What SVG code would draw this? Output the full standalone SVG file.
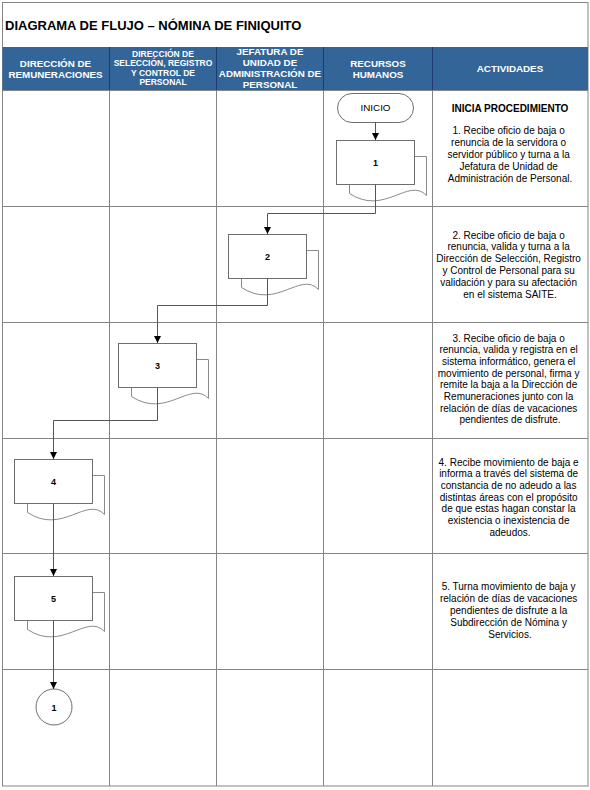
<svg xmlns="http://www.w3.org/2000/svg" width="590" height="790" viewBox="0 0 590 790">
<style>
.grid{stroke:#858585;stroke-width:1;fill:none}
.hdiv{stroke:#1f3a70;stroke-width:1}
.hd{font-family:"Liberation Sans",Arial,sans-serif;font-weight:bold;fill:#ffffff;text-anchor:middle}
.act{font-family:"Liberation Sans",Arial,sans-serif;font-size:10px;fill:#000;text-anchor:middle}
.shape{fill:#ffffff;stroke:#6e6e6e;stroke-width:1}
.back{fill:#ffffff;stroke:#8a8a8a;stroke-width:1}
.lbl{font-family:"Liberation Sans",Arial,sans-serif;font-size:9px;font-weight:bold;fill:#000;text-anchor:middle}
.conn{fill:none;stroke:#555555;stroke-width:1}
</style>
<defs>
<marker id="arr" viewBox="0 0 8 8" refX="8" refY="4" markerWidth="7" markerHeight="7" markerUnits="userSpaceOnUse" orient="auto">
<path d="M0,0 L8,4 L0,8 z" fill="#000"/>
</marker>
<g id="multidoc">
<path class="back" d="M78 16 H90 V55 C72 36 48 76 13 53 V44"/>
<rect class="shape" x="0" y="0" width="78" height="44"/>
</g>
</defs>
<rect x="0" y="0" width="590" height="790" fill="#ffffff"/>
<rect x="2.5" y="2.5" width="585.5" height="783.5" fill="none" stroke="#858585"/>
<text x="5" y="30" font-family="'Liberation Sans',Arial,sans-serif" font-size="13" font-weight="bold" fill="#000">DIAGRAMA DE FLUJO – NÓMINA DE FINIQUITO</text>
<g id="header">
<rect x="2.5" y="47" width="585.5" height="43" fill="#336598"/>
<line class="hdiv" x1="109.5" y1="47" x2="109.5" y2="90"/>
<line class="hdiv" x1="216.5" y1="47" x2="216.5" y2="90"/>
<line class="hdiv" x1="323.5" y1="47" x2="323.5" y2="90"/>
<line class="hdiv" x1="432.5" y1="47" x2="432.5" y2="90"/>
<text class="hd" font-size="9.8" x="55.5" y="66.5">DIRECCIÓN DE</text>
<text class="hd" font-size="9.8" x="55.5" y="77.5">REMUNERACIONES</text>
<text class="hd" font-size="8.5" x="163" y="56.5">DIRECCIÓN DE</text>
<text class="hd" font-size="8.5" x="163" y="66">SELECCIÓN, REGISTRO</text>
<text class="hd" font-size="8.5" x="163" y="75.5">Y CONTROL DE</text>
<text class="hd" font-size="8.5" x="163" y="85">PERSONAL</text>
<text class="hd" font-size="9.8" x="270" y="54.5">JEFATURA DE</text>
<text class="hd" font-size="9.8" x="270" y="65.5">UNIDAD DE</text>
<text class="hd" font-size="9.8" x="270" y="76.5">ADMINISTRACIÓN DE</text>
<text class="hd" font-size="9.8" x="270" y="88">PERSONAL</text>
<text class="hd" font-size="9.8" x="378" y="66.5">RECURSOS</text>
<text class="hd" font-size="9.8" x="378" y="77.5">HUMANOS</text>
<text class="hd" font-size="9.8" x="510" y="72">ACTIVIDADES</text>
</g>
<g id="grid">
<line class="grid" x1="109.5" y1="90" x2="109.5" y2="786"/>
<line class="grid" x1="216.5" y1="90" x2="216.5" y2="786"/>
<line class="grid" x1="323.5" y1="90" x2="323.5" y2="786"/>
<line class="grid" x1="432.5" y1="90" x2="432.5" y2="786"/>
<line class="grid" x1="2.5" y1="90.5" x2="588" y2="90.5"/>
<line class="grid" x1="2.5" y1="206.5" x2="588" y2="206.5"/>
<line class="grid" x1="2.5" y1="322.5" x2="588" y2="322.5"/>
<line class="grid" x1="2.5" y1="438.5" x2="588" y2="438.5"/>
<line class="grid" x1="2.5" y1="553.5" x2="588" y2="553.5"/>
<line class="grid" x1="2.5" y1="669.5" x2="588" y2="669.5"/>
</g>
<g id="inicio">
<rect class="shape" x="337.5" y="93.5" width="76" height="29" rx="14.5"/>
<text x="375.5" y="110.5" font-family="'Liberation Sans',Arial,sans-serif" font-size="9.8" text-anchor="middle" fill="#000">INICIO</text>
</g>
<g id="doc1">
<use href="#multidoc" x="336.5" y="140.5"/>
<text class="lbl" x="375.5" y="165.5">1</text>
</g>
<g id="doc2">
<use href="#multidoc" x="228.5" y="234.5"/>
<text class="lbl" x="267.5" y="259.5">2</text>
</g>
<g id="doc3">
<use href="#multidoc" x="118.5" y="343.5"/>
<text class="lbl" x="157.5" y="368.5">3</text>
</g>
<g id="doc4">
<use href="#multidoc" x="14.5" y="459.5"/>
<text class="lbl" x="53.5" y="484.5">4</text>
</g>
<g id="doc5">
<use href="#multidoc" x="14.5" y="576.5"/>
<text class="lbl" x="53.5" y="601.5">5</text>
</g>
<g id="connector1">
<circle class="shape" cx="54" cy="707" r="18"/>
<text class="lbl" x="54" y="710.5" fill="#300">1</text>
</g>
<g id="connectors">
<path class="conn" d="M375.5 122.5 V140" marker-end="url(#arr)"/>
<path class="conn" d="M375.5 184.5 V213.5 H267.5 V234" marker-end="url(#arr)"/>
<path class="conn" d="M267.5 278.5 V305.5 H157.5 V343" marker-end="url(#arr)"/>
<path class="conn" d="M157.5 387.5 V420.5 H53.5 V459" marker-end="url(#arr)"/>
<path class="conn" d="M53.5 503.5 V576" marker-end="url(#arr)"/>
<path class="conn" d="M53.5 620.5 V689" marker-end="url(#arr)"/>
</g>
<g id="activities">
<text class="act" x="510" y="111.5" font-weight="bold">INICIA PROCEDIMIENTO</text>
<text class="act" x="510" y="133.5">
<tspan x="510">1. Recibe oficio de baja o</tspan>
<tspan x="510" dy="12">renuncia de la servidora o</tspan>
<tspan x="510" dy="12">servidor público y turna a la</tspan>
<tspan x="510" dy="12">Jefatura de Unidad de</tspan>
<tspan x="510" dy="12">Administración de Personal.</tspan>
</text>
<text class="act" x="510" y="238.5">
<tspan x="510">2. Recibe oficio de baja o</tspan>
<tspan x="510" dy="11.8">renuncia, valida y turna a la</tspan>
<tspan x="510" dy="11.8">Dirección de Selección, Registro</tspan>
<tspan x="510" dy="11.8">y Control de Personal para su</tspan>
<tspan x="510" dy="11.8">validación y para su afectación</tspan>
<tspan x="510" dy="11.8">en el sistema SAITE.</tspan>
</text>
<text class="act" x="510" y="341.5">
<tspan x="510">3. Recibe oficio de baja o</tspan>
<tspan x="510" dy="11.7">renuncia, valida y registra en el</tspan>
<tspan x="510" dy="11.7">sistema informático, genera el</tspan>
<tspan x="510" dy="11.7">movimiento de personal, firma y</tspan>
<tspan x="510" dy="11.7">remite la baja a la Dirección de</tspan>
<tspan x="510" dy="11.7">Remuneraciones junto con la</tspan>
<tspan x="510" dy="11.7">relación de días de vacaciones</tspan>
<tspan x="510" dy="11.7">pendientes de disfrute.</tspan>
</text>
<text class="act" x="510" y="465.5">
<tspan x="510">4. Recibe movimiento de baja e</tspan>
<tspan x="510" dy="11.7">informa a través del sistema de</tspan>
<tspan x="510" dy="11.7">constancia de no adeudo a las</tspan>
<tspan x="510" dy="11.7">distintas áreas con el propósito</tspan>
<tspan x="510" dy="11.7">de que estas hagan constar la</tspan>
<tspan x="510" dy="11.7">existencia o inexistencia de</tspan>
<tspan x="510" dy="11.7">adeudos.</tspan>
</text>
<text class="act" x="510" y="589.5">
<tspan x="510">5. Turna movimiento de baja y</tspan>
<tspan x="510" dy="12">relación de días de vacaciones</tspan>
<tspan x="510" dy="12">pendientes de disfrute a la</tspan>
<tspan x="510" dy="12">Subdirección de Nómina y</tspan>
<tspan x="510" dy="12">Servicios.</tspan>
</text>
</g>
</svg>
